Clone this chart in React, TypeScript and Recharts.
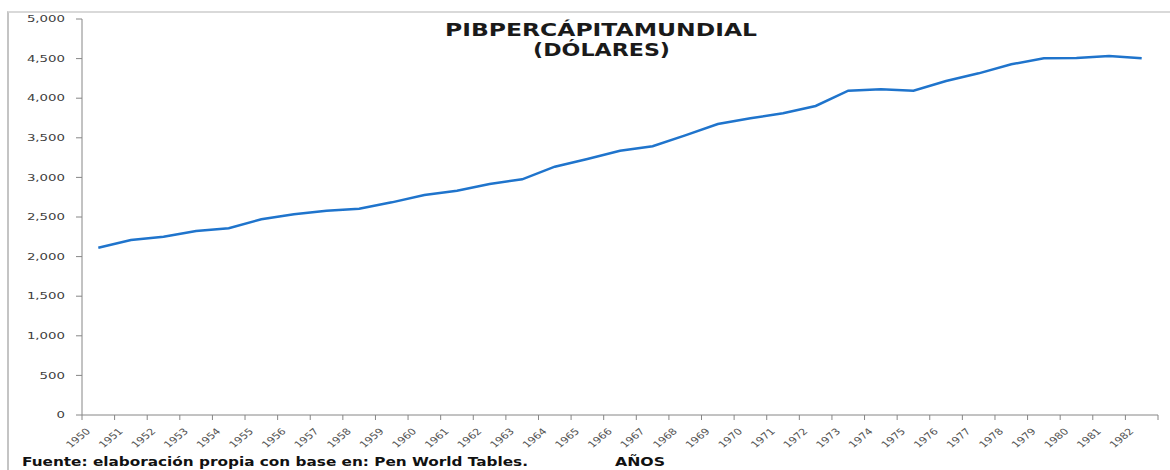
import React from "react";
import { LineChart, Line, XAxis, YAxis } from "recharts";

const years = [
  1950, 1951, 1952, 1953, 1954, 1955, 1956, 1957, 1958, 1959, 1960, 1961, 1962,
  1963, 1964, 1965, 1966, 1967, 1968, 1969, 1970, 1971, 1972, 1973, 1974, 1975,
  1976, 1977, 1978, 1979, 1980, 1981, 1982,
];

const pibPerCapita = [
  2112, 2210, 2250, 2323, 2357, 2471, 2534, 2580, 2605, 2685, 2778, 2832, 2917,
  2976, 3135, 3232, 3337, 3393, 3531, 3674, 3746, 3809, 3902, 4095, 4112, 4095,
  4217, 4314, 4428, 4504, 4508, 4533, 4504,
];

const yTicks = [0, 500, 1000, 1500, 2000, 2500, 3000, 3500, 4000, 4500, 5000];

const titleLines = ["PIBPERCÁPITAMUNDIAL", "(DÓLARES)"];
const sourceText = "Fuente: elaboración propia con base en: Pen World Tables.";
const xAxisTitle = "AÑOS";

const data = years.map((year, i) => ({ year, value: pibPerCapita[i] }));
const xBoundaries = [...years.map((y) => y - 0.5), years[years.length - 1] + 0.5];

const FONT = "DejaVu Sans";

const YTick = (props: any) => {
  const { x, y, payload } = props;
  return (
    <g transform={`translate(${x},${y})`}>
      <text
        transform="scale(1.48,1)"
        textAnchor="end"
        dy="0.36em"
        fontSize={9}
        fontFamily={FONT}
        fill="#404040"
      >
        {Number(payload.value).toLocaleString("en-US")}
      </text>
    </g>
  );
};

const XTick = (props: any) => {
  const { x, y, payload } = props;
  const label = Math.round(payload.value + 0.5);
  if (label > years[years.length - 1]) return null;
  return (
    <g transform={`translate(${x + 9},${y + 10})`}>
      <text
        transform="scale(1.25,1) rotate(-45)"
        textAnchor="end"
        fontSize={9}
        fontFamily={FONT}
        fill="#555"
      >
        {label}
      </text>
    </g>
  );
};

export default function App() {
  return (
    <div
      style={{
        position: "absolute",
        top: 0,
        left: 0,
        width: 1170,
        height: 470,
        background: "#fff",
        overflow: "hidden",
      }}
    >
      <div
        style={{
          position: "absolute",
          top: 11,
          left: 7,
          right: -4,
          bottom: -4,
          borderTop: "2px solid #d9d9d9",
          borderLeft: "2px solid #c4c4c4",
        }}
      />
      <div style={{ position: "absolute", top: 0, left: 0 }}>
        <LineChart
          width={1170}
          height={470}
          data={data}
          margin={{ top: 19, right: 12, left: 10, bottom: 0 }}
        >
          <XAxis
            dataKey="year"
            type="number"
            domain={[xBoundaries[0], xBoundaries[xBoundaries.length - 1]]}
            ticks={xBoundaries}
            interval={0}
            height={55}
            tickSize={5}
            stroke="#868686"
            tick={<XTick />}
          />
          <YAxis
            type="number"
            domain={[0, 5000]}
            ticks={yTicks}
            interval={0}
            width={72}
            tickSize={6}
            tickMargin={11}
            stroke="#868686"
            tick={<YTick />}
          />
          <Line
            type="linear"
            dataKey="value"
            stroke="#1f74cc"
            strokeWidth={2.5}
            dot={false}
            activeDot={false}
            isAnimationActive={false}
          />
        </LineChart>
      </div>
      <svg
        width={1170}
        height={470}
        style={{ position: "absolute", top: 0, left: 0, pointerEvents: "none" }}
      >
        <text
          x={445}
          y={36}
          textLength={312}
          lengthAdjust="spacingAndGlyphs"
          fontSize={17}
          fontWeight="bold"
          fontFamily={FONT}
          fill="#1a1a1a"
        >
          {titleLines[0]}
        </text>
        <text
          x={533}
          y={56}
          textLength={137}
          lengthAdjust="spacingAndGlyphs"
          fontSize={17}
          fontWeight="bold"
          fontFamily={FONT}
          fill="#1a1a1a"
        >
          {titleLines[1]}
        </text>
        <text
          x={22}
          y={466}
          textLength={506}
          lengthAdjust="spacingAndGlyphs"
          fontSize={12}
          fontWeight="bold"
          fontFamily={FONT}
          fill="#111"
        >
          {sourceText}
        </text>
        <text
          x={615}
          y={466}
          textLength={50}
          lengthAdjust="spacingAndGlyphs"
          fontSize={12}
          fontWeight="bold"
          fontFamily={FONT}
          fill="#111"
        >
          {xAxisTitle}
        </text>
      </svg>
    </div>
  );
}
